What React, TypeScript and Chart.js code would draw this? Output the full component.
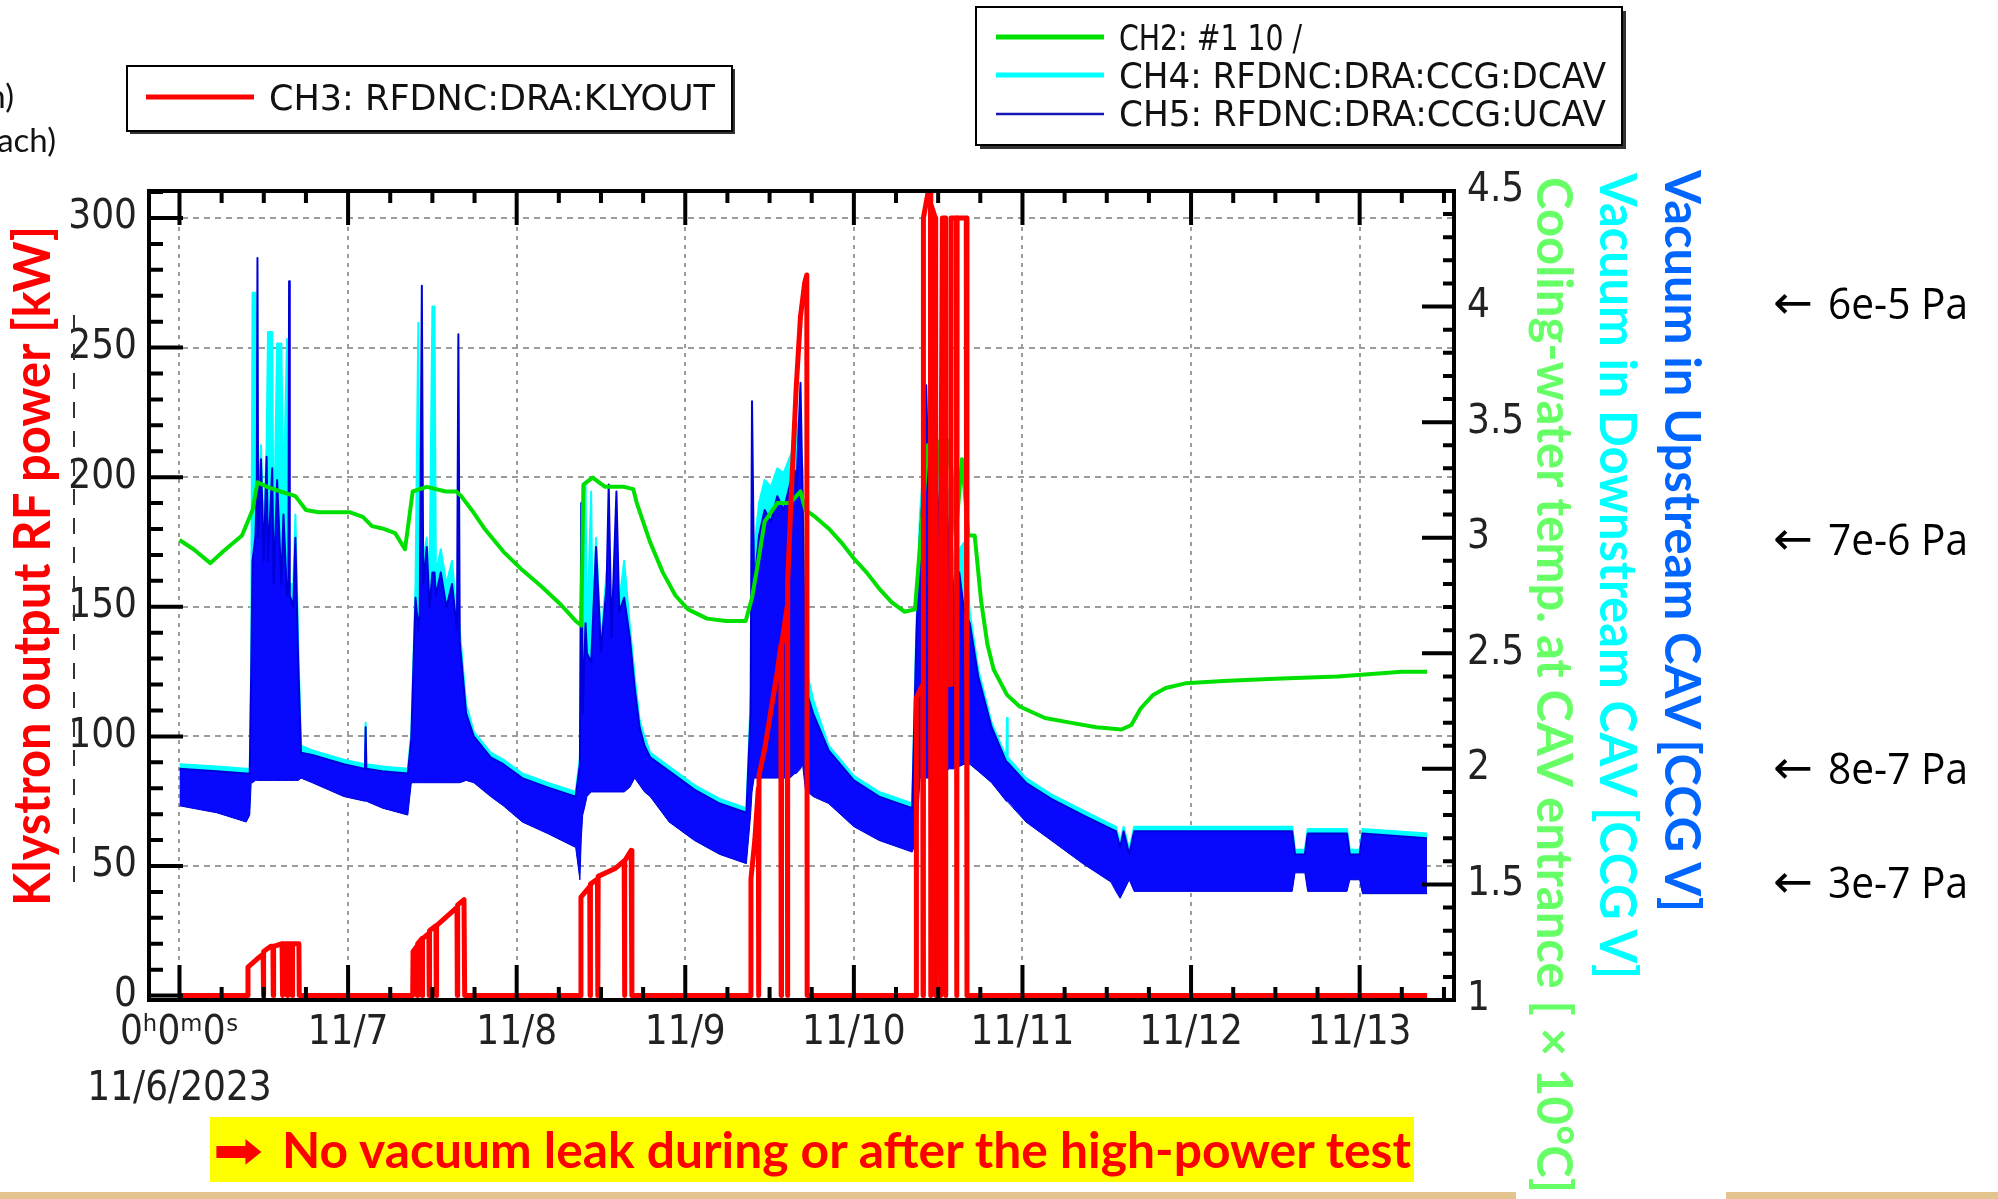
import React, { useEffect, useRef } from 'react';
import { Chart, registerables } from 'chart.js';

Chart.register(...registerables);

const W = 1998;
const H = 1199;
const AREA = { left: 149, top: 191, right: 1454, bottom: 1000 };

const X_MIN = -4.34;
const X_MAX = 181.43;
const KW_MIN = -1.7;
const KW_MAX = 310.4;
const V_MIN = 1;
const V_MAX = 4.5;

// ---------- axis ticks ----------
const dayTicks = [0, 24, 48, 72, 96, 120, 144, 168];
const dayLabels: (string | string[])[] = [
  ['0ʰ0ᵐ0ˢ', '11/6/2023'], '11/7', '11/8', '11/9', '11/10', '11/11', '11/12', '11/13',
];
const powerTicks = [0, 50, 100, 150, 200, 250, 300];
const voltTicks = [1, 1.5, 2, 2.5, 3, 3.5, 4, 4.5];

// ---------- CH2: cooling-water temperature (x10 degC), hours since 11/6 0:00 ----------
const ch2Hours = [
  0, 2.0, 4.4, 6.2, 8.9, 10.4, 11.1, 12.5, 14.4, 16.5,
  18.0, 19.8, 22.0, 24.3, 26.1, 27.4, 28.9, 30.7, 32.1, 33.2,
  35.2, 37.9, 39.4, 40.1, 41.6, 43.4, 46.1, 48.8, 51.5, 54.3,
  56.4, 57.2, 57.5, 58.8, 60.6, 63.3, 64.6, 65.1, 67.0, 68.8,
  70.6, 72.4, 75.1, 77.8, 80.6, 81.5, 82.4, 83.3, 85.1, 86.9,
  88.4, 89.1, 90.5, 92.4, 94.2, 96.0, 97.8, 99.6, 101.4, 103.2,
  104.7, 105.4, 106.5, 107.8, 108.7, 109.6, 110.5, 111.4, 112.3, 113.2,
  114.1, 115.0, 115.9, 117.8, 119.6, 123.2, 126.8, 130.5, 134.1, 135.5,
  136.8, 138.6, 140.4, 143.2, 148.6, 155.9, 164.9, 174.0, 177.6,
];
const ch2Temp = [
  2.99, 2.95, 2.89, 2.94, 3.01, 3.12, 3.24, 3.22, 3.20, 3.18,
  3.12, 3.11, 3.11, 3.11, 3.09, 3.05, 3.04, 3.02, 2.95, 3.20,
  3.22, 3.20, 3.20, 3.18, 3.12, 3.04, 2.94, 2.86, 2.79, 2.71,
  2.64, 2.62, 3.23, 3.26, 3.22, 3.22, 3.21, 3.15, 2.98, 2.85,
  2.75, 2.69, 2.65, 2.64, 2.64, 2.74, 2.90, 3.07, 3.15, 3.15,
  3.20, 3.12, 3.09, 3.04, 2.98, 2.91, 2.85, 2.78, 2.72, 2.68,
  2.69, 2.96, 3.40, 3.42, 3.17, 3.42, 3.01, 3.34, 3.01, 3.01,
  2.73, 2.54, 2.43, 2.32, 2.27, 2.22, 2.20, 2.18, 2.17, 2.19,
  2.26, 2.32, 2.35, 2.37, 2.38, 2.39, 2.40, 2.42, 2.42,
];

// ---------- CH3: klystron output power (kW) ----------
const ch3Hours = [
  0, 9.7, 9.75, 11.0, 11.9, 11.95, 12.0, 13.0, 13.3, 13.35, 13.4, 14.6, 14.65, 14.7, 15.3, 15.35, 15.4, 16.0, 16.05, 16.1, 17.0, 17.05,
  33.2, 33.25, 33.8, 33.85, 33.9, 34.5, 34.55, 34.6, 35.5, 35.55, 35.6, 36.5, 36.55, 36.6, 39.5, 39.55, 39.6, 40.5, 40.6,
  57.1, 57.15, 58.4, 58.45, 58.5, 59.5, 59.55, 59.6, 62.0, 63.3, 63.35, 63.4, 64.3, 64.4,
  81.3, 81.35, 81.9, 82.4, 82.45, 82.5, 83.3, 84.2, 85.1, 85.6, 85.65, 85.7, 86.5, 86.55, 86.6, 87.2, 87.8, 88.4, 89.0, 89.3, 89.35,
  104.85, 104.9, 105.8, 105.85, 105.9, 106.9, 106.95, 107.0, 107.6, 107.65, 107.7, 108.3, 108.35, 108.4, 108.6, 109.0, 109.05, 109.1, 109.8, 109.85, 110.6, 110.65, 110.7, 112.0, 112.1, 177.6,
];
const ch3Power = [
  0, 0, 11, 14, 16, 0, 17, 19, 19, 0, 19, 20, 0, 20, 20, 0, 20, 20, 0, 20, 20, 0,
  0, 17, 19, 0, 20, 22, 0, 22, 24, 0, 25, 27, 0, 27, 34, 0, 35, 37, 0,
  0, 38, 42, 0, 43, 45, 0, 46, 49, 52, 0, 52, 56, 0,
  0, 45, 60, 80, 0, 85, 95, 110, 125, 135, 0, 135, 150, 0, 160, 200, 235, 262, 275, 278, 0,
  0, 115, 120, 0, 300, 315, 0, 305, 300, 0, 120, 120, 0, 175, 300, 300, 0, 120, 120, 300, 300, 0, 300, 300, 0, 0,
];

// ---------- CH4 / CH5: cavity vacuum gauges (CCG V), envelope of the fast signal ----------
const bandHours = [
  0.0, 5.3, 9.5, 10.0, 10.2, 10.4, 10.8, 11.0, 11.1, 11.2,
  11.6, 12.0, 12.4, 12.6, 13.2, 13.4, 13.9, 14.5, 14.8, 15.3,
  15.5, 15.6, 15.7, 16.2, 16.5, 16.9, 17.3, 18.9, 23.4, 26.4,
  26.5, 26.6, 28.9, 32.5, 33.0, 33.6, 34.0, 34.2, 34.5, 34.7,
  35.2, 35.6, 36.0, 36.3, 36.5, 37.2, 38.0, 38.8, 39.5, 39.7,
  39.9, 40.8, 41.9, 44.3, 46.1, 48.8, 52.4, 56.4, 57.0, 57.2,
  57.4, 57.8, 58.0, 58.6, 58.8, 59.3, 60.0, 60.8, 61.1, 61.5,
  62.2, 62.6, 63.3, 64.1, 64.8, 65.5, 66.2, 67.0, 69.7, 73.3,
  76.9, 80.7, 81.3, 81.5, 81.8, 82.5, 83.3, 84.2, 85.1, 86.0,
  86.9, 87.6, 87.8, 88.4, 88.7, 89.1, 90.2, 92.4, 96.0, 99.6,
  104.3, 104.9, 105.4, 105.9, 106.3, 106.7, 107.4, 108.1, 108.8, 109.6,
  110.3, 111.0, 111.7, 112.5, 113.7, 115.6, 117.7, 117.8, 117.9, 120.5,
  124.1, 128.6, 132.6, 133.3, 133.9, 134.4, 135.2, 135.9, 158.4, 158.8,
  160.2, 160.6, 166.2, 166.6, 168.0, 168.4, 177.6,
];
const ch5Upper = [
  2.00, 1.99, 1.98, 1.98, 2.40, 2.90, 3.00, 3.20, 4.21, 3.00,
  3.34, 2.90, 3.35, 2.90, 3.30, 2.80, 3.25, 2.80, 3.10, 2.75,
  2.75, 4.11, 2.75, 2.70, 3.00, 2.46, 2.07, 2.06, 2.02, 2.00,
  2.18, 2.00, 1.99, 1.98, 2.13, 2.74, 2.60, 2.68, 4.09, 2.80,
  2.96, 2.70, 2.85, 2.85, 2.75, 2.85, 2.70, 2.80, 2.60, 3.88,
  2.55, 2.24, 2.14, 2.05, 2.02, 1.96, 1.92, 1.88, 2.02, 3.15,
  2.24, 2.63, 2.50, 2.46, 2.60, 2.96, 2.51, 2.79, 3.23, 2.57,
  3.20, 2.68, 2.74, 2.57, 2.35, 2.18, 2.10, 2.05, 1.99, 1.91,
  1.85, 1.81, 2.24, 3.59, 2.79, 3.01, 3.12, 3.07, 3.18, 3.12,
  3.23, 3.29, 3.20, 3.67, 3.18, 2.35, 2.24, 2.08, 1.95, 1.88,
  1.83, 2.57, 3.01, 3.23, 3.66, 3.12, 3.34, 3.12, 3.29, 2.96,
  2.74, 2.85, 2.68, 2.63, 2.40, 2.18, 2.03, 2.03, 2.03, 1.94,
  1.87, 1.80, 1.74, 1.73, 1.66, 1.73, 1.63, 1.73, 1.73, 1.63,
  1.63, 1.72, 1.72, 1.63, 1.63, 1.72, 1.70,
];
const ch5Lower = [
  1.84, 1.81, 1.77, 1.80, 1.94, 1.94, 1.95, 1.95, 1.95, 1.95,
  1.95, 1.95, 1.95, 1.95, 1.95, 1.95, 1.95, 1.95, 1.95, 1.95,
  1.95, 1.95, 1.95, 1.95, 1.95, 1.95, 1.96, 1.94, 1.88, 1.86,
  1.86, 1.86, 1.83, 1.80, 1.94, 1.94, 1.94, 1.94, 1.94, 1.94,
  1.94, 1.94, 1.94, 1.94, 1.94, 1.94, 1.94, 1.94, 1.94, 1.94,
  1.94, 1.95, 1.94, 1.88, 1.84, 1.77, 1.72, 1.66, 1.52, 1.70,
  1.80, 1.85, 1.88, 1.90, 1.90, 1.90, 1.90, 1.90, 1.90, 1.90,
  1.90, 1.90, 1.90, 1.92, 1.96, 1.93, 1.90, 1.88, 1.77, 1.69,
  1.63, 1.59, 1.80, 1.90, 1.96, 1.96, 1.96, 1.96, 1.96, 1.96,
  1.96, 1.98, 1.98, 2.00, 2.02, 1.91, 1.88, 1.85, 1.75, 1.69,
  1.64, 1.69, 1.96, 1.96, 1.96, 1.96, 1.96, 1.96, 1.98, 2.00,
  2.00, 2.01, 2.02, 2.02, 1.99, 1.94, 1.86, 1.86, 1.86, 1.77,
  1.69, 1.59, 1.51, 1.47, 1.44, 1.47, 1.52, 1.47, 1.47, 1.55,
  1.55, 1.47, 1.47, 1.52, 1.52, 1.46, 1.46,
];
const ch4Upper = [
  2.02, 2.01, 2.00, 2.00, 2.45, 4.06, 4.06, 3.30, 3.30, 3.10,
  3.40, 3.00, 3.40, 3.89, 3.89, 2.90, 3.84, 3.84, 3.15, 3.86,
  2.80, 2.80, 2.80, 2.80, 3.10, 2.55, 2.10, 2.08, 2.04, 2.02,
  2.20, 2.02, 2.01, 2.00, 2.16, 2.80, 3.93, 2.75, 2.75, 2.90,
  3.00, 2.80, 4.00, 4.00, 2.85, 2.95, 2.80, 2.90, 2.65, 2.65,
  2.60, 2.28, 2.16, 2.07, 2.04, 1.98, 1.94, 1.90, 2.05, 3.15,
  2.30, 3.24, 2.55, 3.20, 2.65, 3.00, 2.55, 2.85, 2.85, 2.62,
  2.75, 2.72, 2.90, 2.62, 2.40, 2.21, 2.14, 2.07, 2.01, 1.93,
  1.87, 1.83, 2.30, 2.40, 2.95, 3.15, 3.25, 3.22, 3.30, 3.28,
  3.35, 3.40, 3.51, 3.40, 3.30, 2.45, 2.30, 2.10, 1.97, 1.90,
  1.85, 2.62, 3.10, 3.30, 3.30, 3.25, 3.40, 3.42, 3.42, 3.10,
  2.85, 2.95, 2.98, 2.68, 2.43, 2.20, 2.05, 2.22, 2.05, 1.96,
  1.89, 1.82, 1.76, 1.75, 1.68, 1.75, 1.65, 1.75, 1.75, 1.65,
  1.65, 1.74, 1.74, 1.65, 1.65, 1.74, 1.72,
];

const pressureNotes = ['6e-5 Pa', '7e-6 Pa', '8e-7 Pa', '3e-7 Pa'];
const pressureBaselines = [319, 555, 784, 898];

// ---------- styling ----------
const RED = '#ff0000';
const GREEN = '#00e000';
const CYAN = '#00ffff';
const BLUE = '#0808ff';
const BLUE_LINE = '#0000d8';
const TICK_FONT = '"Liberation Sans Narrow", "Arial Narrow", "DejaVu Sans Condensed", "Nimbus Sans Narrow", sans-serif';
const BOLD_FONT = 'Lato, "Open Sans", "Noto Sans", sans-serif';

const decorPlugin = {
  id: 'decor',
  beforeDatasetsDraw(chart: any) {
    const { ctx, chartArea: a, scales } = chart;
    ctx.save();
    ctx.strokeStyle = '#9c9c9c';
    ctx.lineWidth = 2;
    ctx.setLineDash([6, 5]);
    ctx.beginPath();
    for (const v of powerTicks) {
      if (v <= 0) continue;
      const y = Math.round(scales.kw.getPixelForValue(v));
      ctx.moveTo(a.left, y);
      ctx.lineTo(a.right, y);
    }
    ctx.stroke();
    ctx.setLineDash([4, 5]);
    ctx.beginPath();
    for (const h of dayTicks) {
      const x = Math.round(scales.x.getPixelForValue(h));
      ctx.moveTo(x, a.top);
      ctx.lineTo(x, a.bottom);
    }
    ctx.stroke();
    ctx.restore();
  },
  afterDatasetsDraw(chart: any) {
    const { ctx, chartArea: a, scales } = chart;
    ctx.save();
    ctx.strokeStyle = '#000';
    ctx.lineCap = 'butt';
    ctx.lineWidth = 4;
    ctx.beginPath();
    for (let v = 0; v <= KW_MAX; v += 10) {
      const y = scales.kw.getPixelForValue(v);
      const len = v % 50 === 0 ? 34 : 14;
      ctx.moveTo(a.left, y);
      ctx.lineTo(a.left + len, y);
    }
    for (let i = 10; i <= 45; i++) {
      const y = scales.volt.getPixelForValue(i / 10);
      const len = i % 5 === 0 ? 32 : 11;
      ctx.moveTo(a.right, y);
      ctx.lineTo(a.right - len, y);
    }
    for (let h = 0; h <= X_MAX; h += 6) {
      const x = scales.x.getPixelForValue(h);
      const major = h % 24 === 0;
      ctx.moveTo(x, a.top);
      ctx.lineTo(x, a.top + (major ? 34 : 12));
      ctx.moveTo(x, a.bottom);
      ctx.lineTo(x, a.bottom - (major ? 35 : 13));
    }
    ctx.stroke();
    ctx.lineWidth = 4;
    ctx.strokeRect(a.left, a.top, a.right - a.left, a.bottom - a.top);
    ctx.restore();
  },
};

function pts(xs: number[], ys: number[]) {
  return xs.map((x, i) => ({ x, y: ys[i] }));
}

export default function App() {
  const ref = useRef<HTMLCanvasElement>(null);

  useEffect(() => {
    if (!ref.current) return;
    const tickFont = { family: TICK_FONT, size: 40, lineHeight: 1.4 };
    const chart = new Chart(ref.current, {
      type: 'line',
      data: {
        datasets: [
          {
            label: 'CH5 lower',
            data: pts(bandHours, ch5Lower),
            yAxisID: 'volt',
            borderColor: BLUE_LINE,
            borderWidth: 1,
            pointRadius: 0,
            fill: false,
            order: 3,
          },
          {
            label: 'CH4: RFDNC:DRA:CCG:DCAV',
            data: pts(bandHours, ch4Upper),
            yAxisID: 'volt',
            borderColor: CYAN,
            backgroundColor: CYAN,
            borderWidth: 2,
            pointRadius: 0,
            fill: 0,
            order: 4,
          },
          {
            label: 'CH5: RFDNC:DRA:CCG:UCAV',
            data: pts(bandHours, ch5Upper),
            yAxisID: 'volt',
            borderColor: BLUE_LINE,
            backgroundColor: BLUE,
            borderWidth: 2,
            pointRadius: 0,
            fill: 0,
            order: 3,
          },
          {
            label: 'CH2: #1 10 /',
            data: pts(ch2Hours, ch2Temp),
            yAxisID: 'volt',
            borderColor: GREEN,
            borderWidth: 4,
            pointRadius: 0,
            fill: false,
            order: 2,
          },
          {
            label: 'CH3: RFDNC:DRA:KLYOUT',
            data: pts(ch3Hours, ch3Power),
            yAxisID: 'kw',
            borderColor: RED,
            borderWidth: 5,
            pointRadius: 0,
            fill: false,
            order: 1,
          },
        ],
      } as any,
      options: {
        animation: false,
        responsive: false,
        devicePixelRatio: 1,
        events: [],
        parsing: false,
        normalized: true,
        layout: { padding: { top: AREA.top, left: 0, right: 0, bottom: 0 } },
        elements: { line: { tension: 0, borderJoinStyle: 'round' } },
        plugins: { legend: { display: false }, tooltip: { enabled: false } },
        scales: {
          x: {
            type: 'linear',
            position: 'bottom',
            min: X_MIN,
            max: X_MAX,
            afterBuildTicks: (s: any) => {
              s.ticks = dayTicks.map((value) => ({ value }));
            },
            afterFit: (s: any) => {
              s.height = H - AREA.bottom;
            },
            grid: { display: false, drawTicks: false },
            border: { display: false },
            ticks: {
              autoSkip: false,
              maxRotation: 0,
              minRotation: 0,
              padding: 6,
              color: '#222',
              font: tickFont,
              callback: (v: any) => dayLabels[dayTicks.indexOf(Number(v))] ?? '',
            },
          },
          kw: {
            type: 'linear',
            position: 'left',
            min: KW_MIN,
            max: KW_MAX,
            afterBuildTicks: (s: any) => {
              s.ticks = powerTicks.map((value) => ({ value }));
            },
            afterFit: (s: any) => {
              s.width = AREA.left;
            },
            grid: { display: false, drawTicks: false },
            border: { display: false },
            ticks: { padding: 12, color: '#222', font: tickFont, callback: (v: any) => String(v) },
          },
          volt: {
            type: 'linear',
            position: 'right',
            min: V_MIN,
            max: V_MAX,
            afterBuildTicks: (s: any) => {
              s.ticks = voltTicks.map((value) => ({ value }));
            },
            afterFit: (s: any) => {
              s.width = W - AREA.right;
            },
            grid: { display: false, drawTicks: false },
            border: { display: false },
            ticks: { padding: 13, color: '#222', font: tickFont, callback: (v: any) => String(v) },
          },
        },
      } as any,
      plugins: [decorPlugin],
    });
    return () => chart.destroy();
  }, []);

  const legendText = { fontFamily: TICK_FONT, fontSize: 36, fill: '#111' } as const;

  return (
    <div style={{ position: 'fixed', left: 0, top: 0, width: W, height: H, background: '#fff', overflow: 'hidden' }}>
      <canvas ref={ref} width={W} height={H} style={{ position: 'absolute', left: 0, top: 0, width: W, height: H }} />
      <svg width={W} height={H} style={{ position: 'absolute', left: 0, top: 0, pointerEvents: 'none' }}>
        {/* cut-off side notes */}
        <text x={14} y={108} textAnchor="end" fontFamily={BOLD_FONT} fontSize={33} fill="#111">n)</text>
        <text x={56} y={152} textAnchor="end" fontFamily={BOLD_FONT} fontSize={33} fill="#111">ach)</text>
        <line x1={74} y1={315} x2={74} y2={886} stroke="#333" strokeWidth={2} strokeDasharray="16 13" />

        {/* legend 1 */}
        <rect x={130} y={69} width={605} height={65} fill="#333" />
        <rect x={127} y={66} width={605} height={65} fill="#fff" stroke="#000" strokeWidth={2} />
        <line x1={146} y1={97} x2={254} y2={97} stroke={RED} strokeWidth={5} />
        <text x={269} y={110} textLength={446} lengthAdjust="spacingAndGlyphs" {...legendText}>CH3: RFDNC:DRA:KLYOUT</text>

        {/* legend 2 */}
        <rect x={980} y={11} width={646} height={138} fill="#333" />
        <rect x={976} y={7} width={646} height={138} fill="#fff" stroke="#000" strokeWidth={2} />
        <line x1={996} y1={37} x2={1104} y2={37} stroke={GREEN} strokeWidth={5} />
        <line x1={996} y1={75} x2={1104} y2={75} stroke={CYAN} strokeWidth={5} />
        <line x1={996} y1={114} x2={1104} y2={114} stroke="#1515b8" strokeWidth={2.5} />
        <text x={1119} y={50} textLength={183} lengthAdjust="spacingAndGlyphs" {...legendText}>CH2: #1 10 /</text>
        <text x={1119} y={88} textLength={487} lengthAdjust="spacingAndGlyphs" {...legendText}>CH4: RFDNC:DRA:CCG:DCAV</text>
        <text x={1119} y={126} textLength={487} lengthAdjust="spacingAndGlyphs" {...legendText}>CH5: RFDNC:DRA:CCG:UCAV</text>

        {/* axis titles */}
        <text transform="translate(50 906) rotate(-90)" textLength={680} lengthAdjust="spacingAndGlyphs"
          fontFamily={BOLD_FONT} fontWeight={700} fontSize={52} fill={RED}>Klystron output RF power [kW]</text>
        <text transform="translate(1537 177) rotate(90)" textLength={1016} lengthAdjust="spacingAndGlyphs"
          fontFamily={BOLD_FONT} fontWeight={700} fontSize={50} fill="#66ff66">Cooling-water temp. at CAV entrance [ × 10°C]</text>
        <text transform="translate(1600 173) rotate(90)" textLength={806} lengthAdjust="spacingAndGlyphs"
          fontFamily={BOLD_FONT} fontWeight={700} fontSize={51} fill="#00ffff">Vacuum in Downstream CAV [CCG V]</text>
        <text transform="translate(1665 170) rotate(90)" textLength={742} lengthAdjust="spacingAndGlyphs"
          fontFamily={BOLD_FONT} fontWeight={700} fontSize={49} fill="#0066ff">Vacuum in Upstream CAV [CCG V]</text>

        {/* pressure notes */}
        {pressureNotes.map((t, i) => (
          <g key={t}>
            <text x={1773} y={pressureBaselines[i] - 1} textLength={40} lengthAdjust="spacingAndGlyphs"
              fontFamily='"DejaVu Sans", sans-serif' fontSize={46} fill="#000">←</text>
            <text x={1828} y={pressureBaselines[i]} textLength={140} lengthAdjust="spacingAndGlyphs"
              fontFamily='"Open Sans", "Noto Sans", sans-serif' fontSize={43} fill="#000">{t}</text>
          </g>
        ))}

        {/* conclusion */}
        <rect x={210} y={1117} width={1204} height={65} fill="#ffff00" />
        <text x={213} y={1167} textLength={50} lengthAdjust="spacingAndGlyphs" fontFamily='"DejaVu Sans", sans-serif'
          fontWeight={700} fontSize={48} fill={RED}>➡</text>
        <text x={282} y={1168} textLength={1129} lengthAdjust="spacingAndGlyphs" fontFamily={BOLD_FONT}
          fontWeight={700} fontSize={49} fill={RED}>No vacuum leak during or after the high-power test</text>

        {/* bottom strip */}
        <rect x={0} y={1192} width={1516} height={7} fill="#e3c48f" />
        <rect x={1726} y={1192} width={272} height={7} fill="#e3c48f" />
      </svg>
    </div>
  );
}
